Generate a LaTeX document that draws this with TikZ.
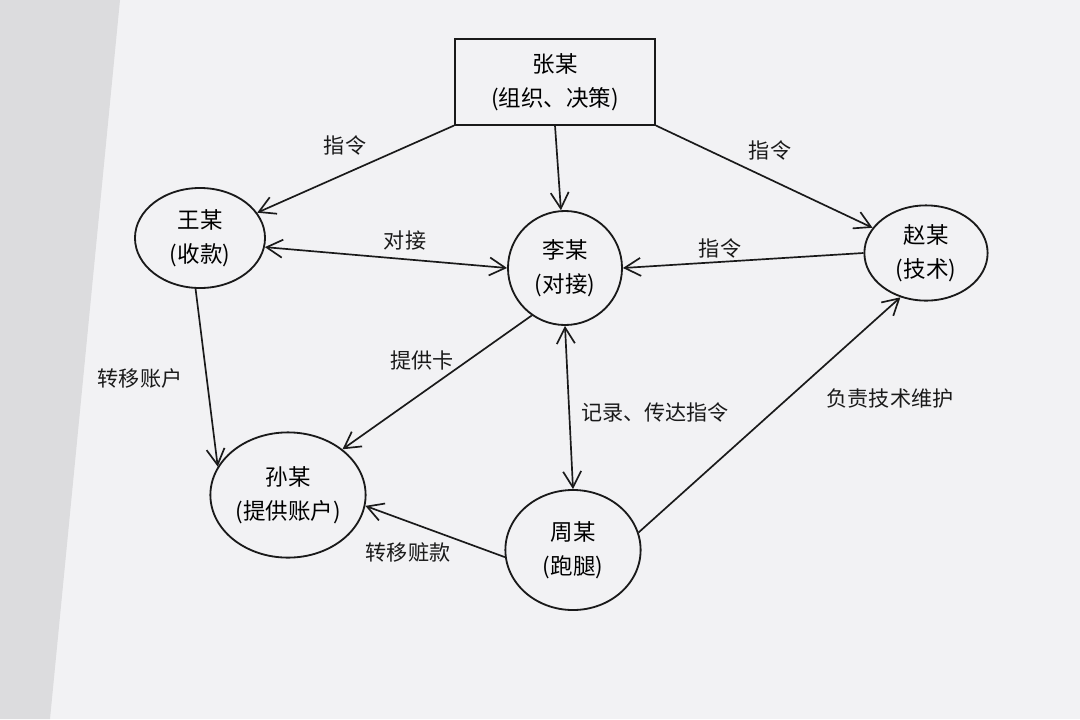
\documentclass[tikz,border=0pt]{standalone}
\usepackage{fontspec}
\newfontfamily\cjk{Noto Sans CJK SC}
\usetikzlibrary{shapes.geometric, arrows.meta}
\definecolor{paper}{HTML}{F2F2F4}
\definecolor{leftgrey}{HTML}{DCDCDE}
\definecolor{ink}{HTML}{1A1A1A}
\tikzstyle{person} = [ellipse, draw=ink, line width=1.3pt, inner sep=0pt, align=center, font=\cjk\fontsize{16}{24}\selectfont]
\tikzstyle{boss} = [rectangle, draw=ink, line width=1.3pt, minimum width=5cm, minimum height=2.13cm, align=center, font=\cjk\fontsize{16}{24}\selectfont]
\tikzstyle{lbl} = [font=\cjk\fontsize{15}{17}\selectfont, text=ink]
\tikzstyle{arrow} = [line width=1.2pt, draw=ink, -{Straight Barb[length=4mm, width=4.5mm, line width=1.2pt]}]
\tikzstyle{both} = [arrow, {Straight Barb[length=4mm, width=4.5mm, line width=1.2pt]}-{Straight Barb[length=4mm, width=4.5mm, line width=1.2pt]}]

\begin{document}
\begin{tikzpicture}[x=0.025cm, y=-0.025cm]
\useasboundingbox (0,0) rectangle (1080,719);
\fill [paper] (0,0) rectangle (1080,719);
\fill [leftgrey] (0,0) -- (120,0) -- (50,719) -- (0,719) -- cycle;

\node (zhang) [boss] at (555,82) {张某\\(组织、决策)};
\node (wang) [person, minimum width=3.25cm, minimum height=2.5cm] at (200,238) {王某\\(收款)};
\node (li) [person, minimum width=2.85cm, minimum height=2.85cm] at (565,268) {李某\\(对接)};
\node (zhao) [person, minimum width=3.08cm, minimum height=2.38cm] at (926,253) {赵某\\(技术)};
\node (sun) [person, minimum width=3.88cm, minimum height=3.13cm] at (288,495) {孙某\\(提供账户)};
\node (zhou) [person, minimum width=3.38cm, minimum height=3cm] at (573,550) {周某\\(跑腿)};

\node (l1) [lbl] at (345,145) {指令};
\node (l2) [lbl] at (770,150) {指令};
\node (l3) [lbl] at (405,240) {对接};
\node (l4) [lbl] at (720,248) {指令};
\node (l5) [lbl] at (140,378) {转移账户};
\node (l6) [lbl] at (422,360) {提供卡};
\node (l7) [lbl] at (655,412) {记录、传达指令};
\node (l8) [lbl] at (890,398) {负责技术维护};
\node (l9) [lbl] at (408,552) {转移赃款};

\draw [arrow] (zhang.south west) -- (wang);
\draw [arrow] (zhang.south) -- (li);
\draw [arrow] (zhang.south east) -- (zhao);
\draw [both] (wang.-8) -- (li.west);
\draw [arrow] (zhao.west) -- (li.east);
\draw [arrow] (wang.-95) -- (sun.158);
\draw [arrow] (li.-125) -- (sun.40);
\draw [both] (li.south) -- (zhou.north);
\draw [arrow] (zhou.15) -- (zhao.240);
\draw [arrow] (zhou.186) -- (sun.-8);
\end{tikzpicture}
\end{document}
